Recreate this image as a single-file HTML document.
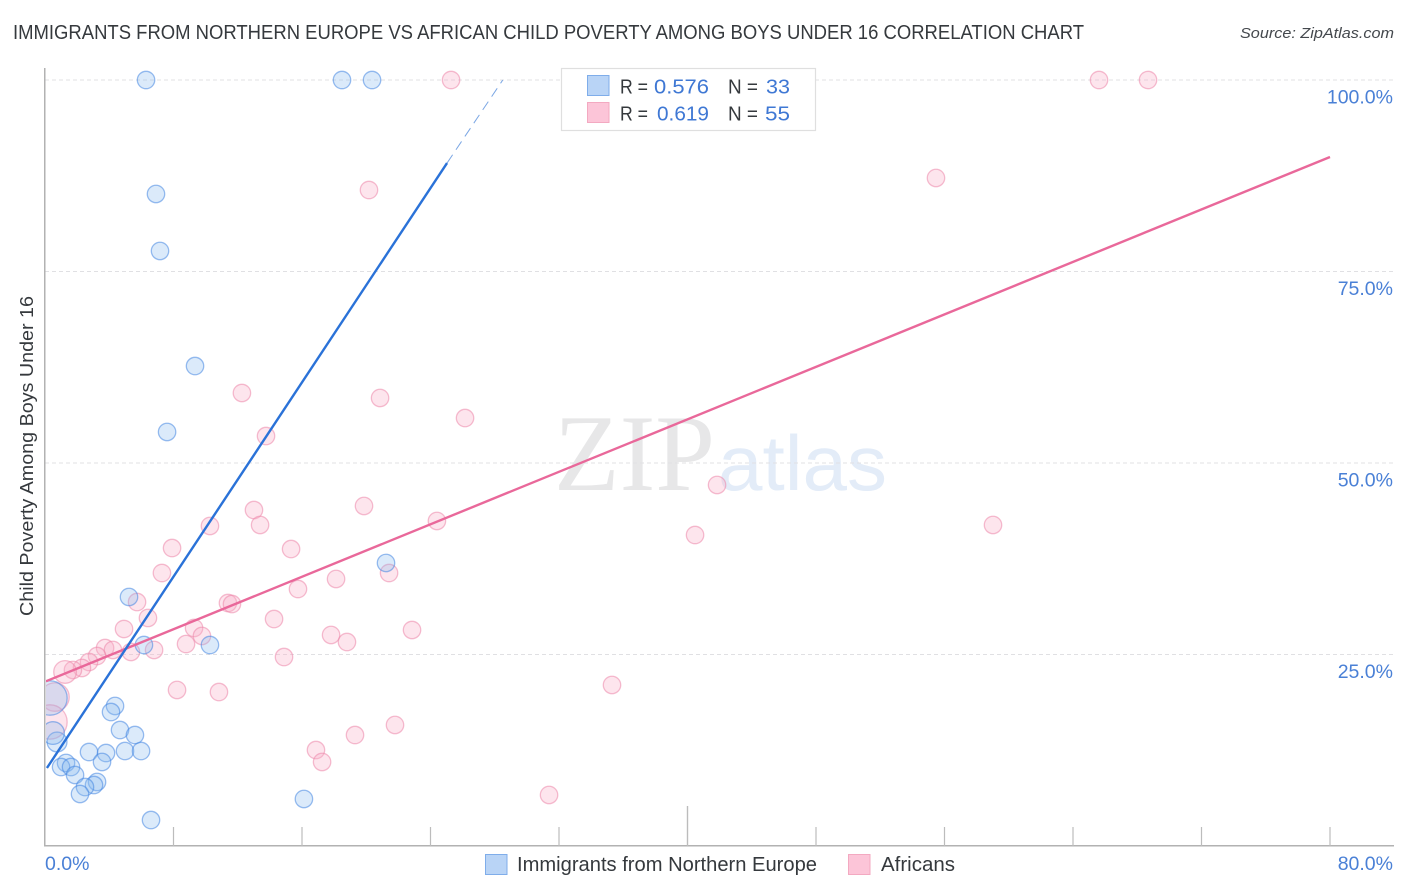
<!DOCTYPE html>
<html lang="en">
<head>
<meta charset="utf-8">
<title>Immigrants from Northern Europe vs African Child Poverty Among Boys Under 16 Correlation Chart</title>
<style>
html,body{margin:0;padding:0;background:#fff;width:1406px;height:892px;overflow:hidden}
svg{display:block;font-family:"Liberation Sans",sans-serif}
</style>
</head>
<body>
<svg id="chart" width="1406" height="892" viewBox="0 0 1406 892" xmlns="http://www.w3.org/2000/svg">
  <defs><clipPath id="plot-clip"><rect x="46" y="60" width="1348" height="786"></rect></clipPath></defs>
  <text x="13" y="39" font-size="20" fill="#35393d" textLength="1071" lengthAdjust="spacingAndGlyphs">IMMIGRANTS FROM NORTHERN EUROPE VS AFRICAN CHILD POVERTY AMONG BOYS UNDER 16 CORRELATION CHART</text>
  <text x="1394" y="38" font-size="15" font-style="italic" fill="#44484d" text-anchor="end" textLength="154" lengthAdjust="spacingAndGlyphs">Source: ZipAtlas.com</text>
  <g>
    <text x="554" y="490" font-family="'Liberation Serif',serif" font-size="109" fill="#e7e7e8" textLength="161" lengthAdjust="spacingAndGlyphs">ZIP</text>
    <text x="718" y="490" font-size="78" fill="#e3ecf8" textLength="169" lengthAdjust="spacingAndGlyphs">atlas</text>
  </g>
  <g id="grid"></g>
  <g id="axes"></g>
  <g id="marks" clip-path="url(#plot-clip)"></g>
  <g id="labels"></g>
  <text transform="translate(33,616) rotate(-90)" font-size="18" fill="#35393d" textLength="320" lengthAdjust="spacingAndGlyphs">Child Poverty Among Boys Under 16</text>

  <g>
    <rect x="561.5" y="68.5" width="254" height="62" fill="#fff" stroke="#dfdfdf" stroke-width="1.2"></rect>
    <rect x="587.5" y="75.5" width="21.5" height="20" fill="#b9d4f6" stroke="#7fadea" stroke-width="1"></rect>
    <rect x="587.5" y="102.5" width="21.5" height="20" fill="#fcc5d8" stroke="#f3a9c1" stroke-width="1"></rect>
    <g font-size="20" fill="#35393d">
      <text x="620" y="93.5" textLength="28" lengthAdjust="spacingAndGlyphs">R =</text>
      <text x="654" y="93.5" fill="#3f78d4" textLength="55" lengthAdjust="spacingAndGlyphs">0.576</text>
      <text x="728" y="93.5" textLength="30" lengthAdjust="spacingAndGlyphs">N =</text>
      <text x="766" y="93.5" fill="#3f78d4" textLength="24" lengthAdjust="spacingAndGlyphs">33</text>
      <text x="620" y="120.5" textLength="28" lengthAdjust="spacingAndGlyphs">R =</text>
      <text x="657" y="120.5" fill="#3f78d4" textLength="52" lengthAdjust="spacingAndGlyphs">0.619</text>
      <text x="728" y="120.5" textLength="30" lengthAdjust="spacingAndGlyphs">N =</text>
      <text x="765" y="120.5" fill="#3f78d4" textLength="25" lengthAdjust="spacingAndGlyphs">55</text>
    </g>
  </g>

  <g>
    <g>
      <rect x="485.5" y="854.5" width="21.5" height="20" fill="#b9d4f6" stroke="#7fadea" stroke-width="1"></rect>
      <text x="517" y="871" font-size="20" fill="#35393d" textLength="300" lengthAdjust="spacingAndGlyphs">Immigrants from Northern Europe</text>
    </g>
    <g>
      <rect x="848.5" y="854.5" width="21.5" height="20" fill="#fcc5d8" stroke="#f3a9c1" stroke-width="1"></rect>
      <text x="881" y="871" font-size="20" fill="#35393d" textLength="74" lengthAdjust="spacingAndGlyphs">Africans</text>
    </g>
  </g>
</svg>
<script>
const yTicks = [25, 50, 75, 100];
const yTickLabels = ['25.0%', '50.0%', '75.0%', '100.0%'];
const xTicks = [0, 8, 16, 24, 32, 40, 48, 56, 64, 72, 80];
const xEndLabels = ['0.0%', '80.0%'];

const immigrantsX = [6.29,18.49,20.36,6.91,7.16,9.34,7.60,21.23,5.23,6.16,10.27,4.36,4.11,4.67,5.60,4.98,5.98,2.74,3.80,3.55,1.31,1.00,1.62,1.87,3.24,3.05,2.49,2.18,6.60,16.12,0.75,0.50,0.31];
const immigrantsY = [100,100,100,85.12,77.68,62.66,54.05,36.95,32.51,26.24,26.24,18.28,17.49,15.14,14.49,12.40,12.40,12.27,12.14,10.97,10.84,10.31,10.31,9.27,8.36,7.96,7.70,6.79,3.39,6.14,13.58,14.75,19.32];
const immigrantsWeight = [1,1,1,1,1,1,1,1,1,1,1,1,1,1,1,1,1,1,1,1,1,1,1,1,1,1,1,1,1,1,1.3,1.7,3.9];

const africansX = [25.28,65.62,68.67,20.17,55.47,12.26,20.86,26.15,13.76,41.84,19.86,13.01,24.40,10.27,13.39,59.02,40.47,7.91,15.32,7.28,21.42,18.12,15.75,5.73,11.39,11.64,6.41,14.26,9.28,4.92,22.85,17.81,9.77,18.80,8.78,3.74,6.79,5.35,4.23,3.24,14.88,2.74,2.30,1.74,1.25,35.30,8.22,10.83,21.79,19.30,16.87,17.25,31.38,0.62,0.31];
const africansY = [100,100,100,85.64,87.21,59.14,58.49,55.87,53.52,47.13,44.39,43.86,42.43,41.78,41.91,41.91,40.60,38.90,38.77,35.64,35.64,34.86,33.55,31.85,31.72,31.59,29.77,29.63,28.46,28.33,28.20,27.55,27.42,26.63,26.37,25.85,25.59,25.33,25.59,24.80,24.67,24.02,23.24,22.98,22.72,21.02,20.37,20.10,15.80,14.49,12.53,10.97,6.66,19.45,16.19];
const africansWeight = [1,1,1,1,1,1,1,1,1,1,1,1,1,1,1,1,1,1,1,1,1,1,1,1,1,1,1,1,1,1,1,1,1,1,1,1,1,1,1,1,1,1,1,1,1.7,1,1,1,1,1,1,1,1,2.7,3.9];

const immigrantsTrendX = [0.12, 25.03];
const immigrantsTrendY = [10.18, 89.16];
const immigrantsDashX = [25.03, 28.5];
const immigrantsDashY = [89.16, 100];
const africansTrendX = [0.06, 80];
const africansTrendY = [21.5, 89.95];

const SVG_NS = 'http://www.w3.org/2000/svg';
function xScale(v) { return 45 + v * (1330 - 45) / 80; }
function yScale(v) { return 846 - v * (846 - 80) / 100; }
function rScale(w) { return 8.7 * Math.sqrt(w); }
function make(tag, attrs, parent) {
  const el = document.createElementNS(SVG_NS, tag);
  for (const k in attrs) el.setAttribute(k, attrs[k]);
  parent.appendChild(el);
  return el;
}
const gridG = document.getElementById('grid');
const axesG = document.getElementById('axes');
const marksG = document.getElementById('marks');
const labelsG = document.getElementById('labels');

yTicks.forEach(function (t, i) {
  const line = make('line', {x1: 45, x2: 1394, y1: yScale(t), y2: yScale(t), stroke: '#e0e0e3', 'stroke-width': 1, 'stroke-dasharray': '4 3'}, gridG);
  
  
  const label = make('text', {x: 1393, y: yScale(t) + 23.5, 'font-size': 19.5, fill: '#4a80d6', 'text-anchor': 'end'}, labelsG);
  label.textContent = yTickLabels[i];
  
  
});

const leftAxis = make('line', {x1: 44.75, x2: 44.75, y1: 68, y2: 846.5, stroke: '#b2b2b2', 'stroke-width': 1.5}, axesG);


const bottomAxis = make('line', {x1: 44, x2: 1394, y1: 845.75, y2: 845.75, stroke: '#b2b2b2', 'stroke-width': 1.5}, axesG);


xTicks.forEach(function (t) {
  if (t === 0) return;
  const top = t === 40 ? 806 : 827;
  const tick = make('line', {x1: xScale(t), x2: xScale(t), y1: top, y2: 846, stroke: '#bcbcbc', 'stroke-width': t === 40 ? 1.4 : 1.2}, axesG);
  
  
});

const xStart = make('text', {x: 45, y: 870, 'font-size': 19.5, fill: '#4a80d6'}, labelsG);
xStart.textContent = xEndLabels[0];


const xEnd = make('text', {x: 1393, y: 870, 'font-size': 19.5, fill: '#4a80d6', 'text-anchor': 'end'}, labelsG);
xEnd.textContent = xEndLabels[1];



africansX.forEach(function (x, i) {
  const c = make('circle', {cx: xScale(x), cy: yScale(africansY[i]), r: rScale(africansWeight[i]), fill: 'rgba(248,175,200,0.32)', stroke: 'rgba(236,135,170,0.55)', 'stroke-width': 1.3}, marksG);
  
  
});
immigrantsX.forEach(function (x, i) {
  const c = make('circle', {cx: xScale(x), cy: yScale(immigrantsY[i]), r: rScale(immigrantsWeight[i]), fill: 'rgba(135,185,240,0.3)', stroke: 'rgba(70,135,225,0.55)', 'stroke-width': 1.3}, marksG);
  
  
});

const trendA = make('line', {x1: xScale(africansTrendX[0]), y1: yScale(africansTrendY[0]), x2: xScale(africansTrendX[1]), y2: yScale(africansTrendY[1]), stroke: '#e9689a', 'stroke-width': 2.4}, marksG);


const trendB = make('line', {x1: xScale(immigrantsTrendX[0]), y1: yScale(immigrantsTrendY[0]), x2: xScale(immigrantsTrendX[1]), y2: yScale(immigrantsTrendY[1]), stroke: '#2a72d8', 'stroke-width': 2.4}, marksG);


const dashB = make('line', {x1: xScale(immigrantsDashX[0]), y1: yScale(immigrantsDashY[0]), x2: xScale(immigrantsDashX[1]), y2: yScale(immigrantsDashY[1]), stroke: '#7aa6e4', 'stroke-width': 1, 'stroke-dasharray': '10 6'}, marksG);


</script>
</body>
</html>
